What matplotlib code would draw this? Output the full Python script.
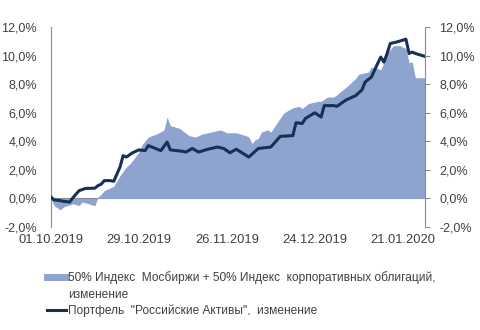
import matplotlib
matplotlib.use("Agg")
import matplotlib.pyplot as plt
import matplotlib.dates as mdates
from matplotlib.lines import Line2D
import pandas as pd

plt.rcParams["font.family"] = ["Liberation Sans", "DejaVu Sans"]

# Benchmark: 50% MOEX index + 50% corporate bond index, change in %
index_dates = [
    "2019-10-01", "2019-10-02", "2019-10-04", "2019-10-05", "2019-10-08", "2019-10-10",
    "2019-10-11", "2019-10-13", "2019-10-14", "2019-10-15", "2019-10-16", "2019-10-17",
    "2019-10-18", "2019-10-20", "2019-10-21", "2019-10-23", "2019-10-25", "2019-10-26",
    "2019-10-27", "2019-10-29", "2019-10-30", "2019-11-01", "2019-11-04", "2019-11-06",
    "2019-11-07", "2019-11-08", "2019-11-11", "2019-11-14", "2019-11-16", "2019-11-18",
    "2019-11-21", "2019-11-24", "2019-11-26", "2019-11-29", "2019-12-02", "2019-12-03",
    "2019-12-04", "2019-12-05", "2019-12-06", "2019-12-07", "2019-12-09", "2019-12-10",
    "2019-12-12", "2019-12-14", "2019-12-15", "2019-12-17", "2019-12-19", "2019-12-20",
    "2019-12-22", "2019-12-25", "2019-12-26", "2019-12-28", "2019-12-30", "2019-12-31",
    "2020-01-01", "2020-01-03", "2020-01-06", "2020-01-07", "2020-01-10", "2020-01-11",
    "2020-01-13", "2020-01-14", "2020-01-15", "2020-01-16", "2020-01-18", "2020-01-20",
    "2020-01-22", "2020-01-23", "2020-01-24", "2020-01-25", "2020-01-28",
]
index_values = [
    0.0, -0.5, -0.8, -0.6, -0.37, -0.5,
    -0.25, -0.37, -0.45, -0.5, 0.1, 0.3,
    0.55, 0.75, 0.85, 1.6, 2.2, 2.4,
    2.65, 3.25, 3.75, 4.3, 4.55, 4.8,
    5.7, 5.1, 4.9, 4.4, 4.3, 4.5,
    4.65, 4.8, 4.6, 4.6, 4.4, 4.3,
    3.85, 4.1, 4.2, 4.65, 4.8, 4.65,
    5.3, 5.95, 6.1, 6.35, 6.45, 6.3,
    6.65, 6.8, 6.8, 7.1, 7.1, 7.25,
    7.45, 7.8, 8.4, 8.7, 8.85, 9.2,
    9.1, 9.0, 9.55, 10.15, 10.7, 10.7,
    10.5, 9.5, 9.55, 8.45, 8.45,
]

# Portfolio "Russian Assets", change in %
port_dates = [
    "2019-10-01", "2019-10-02", "2019-10-04", "2019-10-05", "2019-10-07", "2019-10-08",
    "2019-10-10", "2019-10-12", "2019-10-15", "2019-10-16", "2019-10-17", "2019-10-18",
    "2019-10-20", "2019-10-21", "2019-10-23", "2019-10-24", "2019-10-25", "2019-10-27",
    "2019-10-29", "2019-10-31", "2019-11-01", "2019-11-05", "2019-11-07", "2019-11-08",
    "2019-11-12", "2019-11-13", "2019-11-15", "2019-11-17", "2019-11-20", "2019-11-23",
    "2019-11-25", "2019-11-27", "2019-11-29", "2019-12-03", "2019-12-06", "2019-12-10",
    "2019-12-13", "2019-12-17", "2019-12-18", "2019-12-20", "2019-12-21", "2019-12-24",
    "2019-12-26", "2019-12-27", "2019-12-30", "2019-12-31", "2020-01-03", "2020-01-06",
    "2020-01-08", "2020-01-09", "2020-01-11", "2020-01-13", "2020-01-14", "2020-01-15",
    "2020-01-16", "2020-01-17", "2020-01-19", "2020-01-22", "2020-01-23", "2020-01-24",
    "2020-01-25", "2020-01-28",
]
port_values = [
    0.1, -0.1, -0.15, -0.2, -0.25, 0.05,
    0.55, 0.7, 0.72, 0.9, 1.0, 1.25,
    1.25, 1.2, 2.2, 3.0, 2.9, 3.2,
    3.4, 3.35, 3.7, 3.35, 3.95, 3.4,
    3.3, 3.25, 3.5, 3.25, 3.45, 3.6,
    3.5, 3.2, 3.45, 2.9, 3.5, 3.6,
    4.35, 4.4, 5.3, 5.25, 5.6, 6.0,
    5.7, 6.5, 6.5, 6.45, 6.9, 7.2,
    7.6, 8.15, 8.5, 9.45, 9.9, 9.55,
    10.15, 10.85, 10.95, 11.15, 10.15, 10.25,
    10.15, 9.95,
]

tick_dates = ["2019-10-01", "2019-10-29", "2019-11-26", "2019-12-24", "2020-01-21"]
y_ticks = [-2, 0, 2, 4, 6, 8, 10, 12]

index_label = "50% Индекс  Мосбиржи + 50% Индекс  корпоративных облигаций,"
index_label_2 = "изменение"
port_label = "Портфель  \"Российские Активы\",  изменение"

area_color = "#8DA4CE"
line_color = "#16305A"
text_color = "#404040"
axis_color = "#8C8C8C"

fig = plt.figure(figsize=(4.8, 3.3), dpi=100)
ax = fig.add_axes([0.106, 0.312, 0.779, 0.606])

idx_x = pd.to_datetime(index_dates)
port_x = pd.to_datetime(port_dates)

ax.fill_between(idx_x, 0, index_values, color=area_color, linewidth=0, zorder=2)
ax.axhline(0, color=axis_color, linewidth=0.8, zorder=1)
ax.plot(port_x, port_values, color=line_color, linewidth=2.2, zorder=3)

ax.set_xlim(pd.Timestamp("2019-10-01"), pd.Timestamp("2020-01-28"))
ax.set_ylim(-2, 12)
ax.set_yticks(y_ticks)
ax.set_yticklabels([f"{v:.1f}%".replace(".", ",") for v in y_ticks])
ax.set_xticks(pd.to_datetime(tick_dates))
ax.xaxis.set_major_formatter(mdates.DateFormatter("%d.%m.%Y"))

for s in ["top", "bottom", "right"]:
    ax.spines[s].set_visible(False)
ax.spines["left"].set_color(axis_color)
ax.tick_params(axis="y", length=0, pad=10, labelsize=9, labelcolor=text_color)
ax.tick_params(axis="x", length=0, pad=5, labelsize=9.3, labelcolor=text_color)

ax2 = ax.twinx()
ax2.set_ylim(-2, 12)
ax2.set_yticks(y_ticks)
ax2.set_yticklabels([f"{v:.1f}%".replace(".", ",") for v in y_ticks])
for s in ["top", "bottom", "left"]:
    ax2.spines[s].set_visible(False)
ax2.spines["right"].set_color(axis_color)
ax2.tick_params(axis="y", length=3.5, width=0.8, color=axis_color, pad=7,
                labelsize=9, labelcolor=text_color)

# the wrapped benchmark label is split so its marker sits on the first line
handles = [
    Line2D([], [], color=area_color, linewidth=5),
    Line2D([], [], color="none"),
    Line2D([], [], color=line_color, linewidth=2.2),
]
fig.legend(handles, [index_label, index_label_2, port_label], loc="upper left",
           bbox_to_anchor=(0.075, 0.21), frameon=False, fontsize=8.6,
           handlelength=1.6, handletextpad=0.2, labelspacing=0.35,
           labelcolor=text_color)

fig.savefig("out.png", dpi=100, facecolor="white")
